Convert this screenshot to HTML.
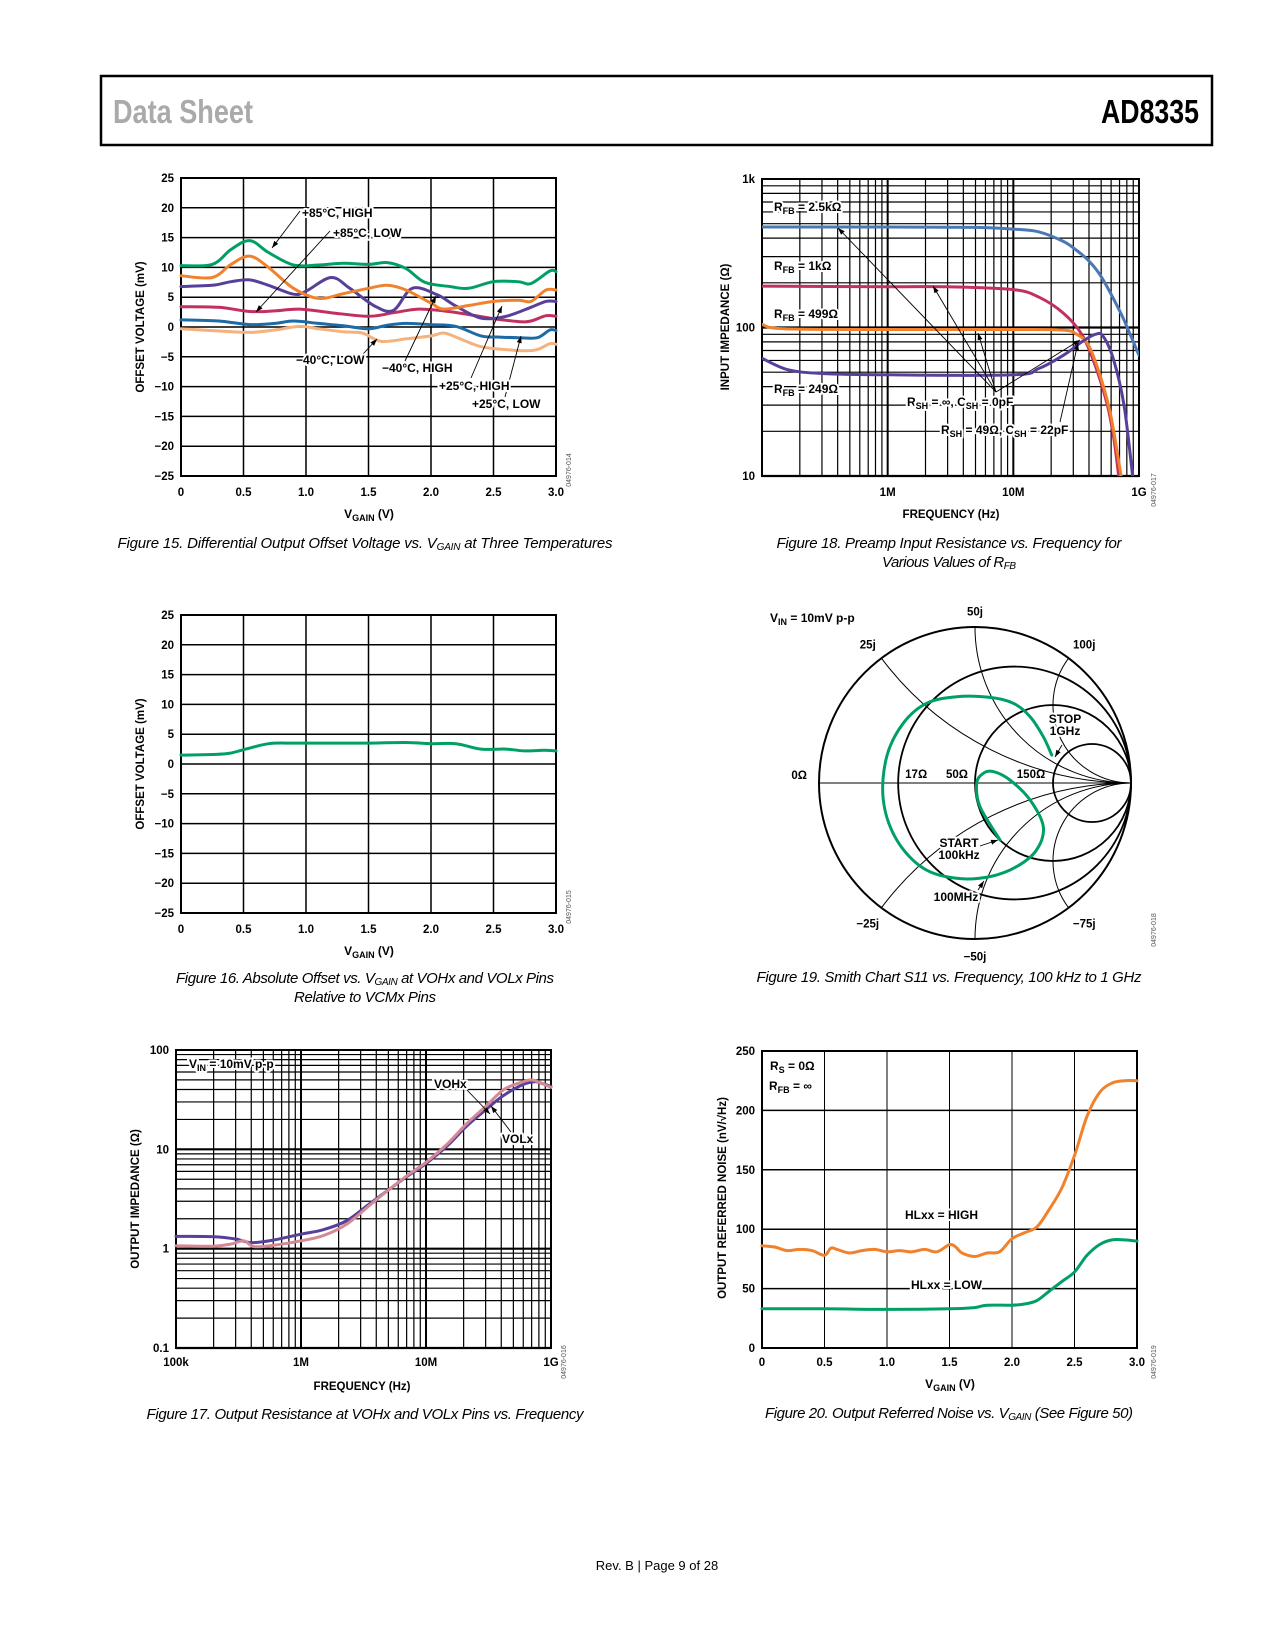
<!DOCTYPE html>
<html><head><meta charset="utf-8"><style>
html,body{margin:0;padding:0;background:#fff;}
svg{display:block;}
.t{font-family:"Liberation Sans",sans-serif;font-weight:bold;font-size:11.5px;fill:#000;}
.lab{font-family:"Liberation Sans",sans-serif;font-weight:bold;font-size:12px;fill:#000;stroke:#fff;stroke-width:4px;paint-order:stroke;stroke-linejoin:round;}
.cap{font-family:"Liberation Sans Narrow","Liberation Sans",sans-serif;font-style:italic;font-size:15px;fill:#000;}
</style></head><body>
<svg id="page" width="1275" height="1650" viewBox="0 0 1275 1650" xmlns="http://www.w3.org/2000/svg">
<rect x="101" y="76" width="1111" height="69" fill="none" stroke="#000" stroke-width="2.5"/>
<text x="113" y="123" textLength="140" lengthAdjust="spacingAndGlyphs" font-family="Liberation Sans Narrow, Liberation Sans, sans-serif" font-weight="bold" font-size="33" fill="#aaaaaa">Data Sheet</text>
<text x="1101" y="123" textLength="98" lengthAdjust="spacingAndGlyphs" font-family="Liberation Sans Narrow, Liberation Sans, sans-serif" font-weight="bold" font-size="33" fill="#000">AD8335</text>
<text x="657" y="1570" text-anchor="middle" font-family="Liberation Sans, sans-serif" font-size="13" fill="#000">Rev. B | Page 9 of 28</text>
<text class="cap" x="365" y="548" text-anchor="middle" textLength="495">Figure 15. Differential Output Offset Voltage vs. V<tspan font-size="10" dy="2">GAIN</tspan><tspan dy="-2"> at Three Temperatures</tspan></text>
<text class="cap" x="949" y="548" text-anchor="middle" textLength="345">Figure 18. Preamp Input Resistance vs. Frequency for</text>
<text class="cap" x="949" y="567" text-anchor="middle" textLength="134">Various Values of R<tspan font-size="10" dy="2">FB</tspan></text>
<text class="cap" x="365" y="983" text-anchor="middle" textLength="378">Figure 16. Absolute Offset vs. V<tspan font-size="10" dy="2">GAIN</tspan><tspan dy="-2"> at VOHx and VOLx Pins</tspan></text>
<text class="cap" x="365" y="1002" text-anchor="middle" textLength="142">Relative to VCMx Pins</text>
<text class="cap" x="949" y="982" text-anchor="middle" textLength="385">Figure 19. Smith Chart S11 vs. Frequency, 100 kHz to 1 GHz</text>
<text class="cap" x="365" y="1419" text-anchor="middle" textLength="437">Figure 17. Output Resistance at VOHx and VOLx Pins vs. Frequency</text>
<text class="cap" x="949" y="1418" text-anchor="middle" textLength="368">Figure 20. Output Referred Noise vs. V<tspan font-size="10" dy="2">GAIN</tspan><tspan dy="-2"> (See Figure 50)</tspan></text>
</svg>
<script>
// ---------- Figure 15 data ----------
const f15_ticks_x=[0,0.5,1.0,1.5,2.0,2.5,3.0];
const f15_tick_labels_x=["0","0.5","1.0","1.5","2.0","2.5","3.0"];
const f15_ticks_y=[25,20,15,10,5,0,-5,-10,-15,-20,-25];
const f15_tick_labels_y=["25","20","15","10","5","0","\u22125","\u221210","\u221215","\u221220","\u221225"];
const f15_green_x=[0,0.25,0.4,0.55,0.7,0.9,1.1,1.3,1.5,1.65,1.8,1.95,2.15,2.3,2.5,2.7,2.8,2.95,3.0];
const f15_green_y=[10.3,10.5,13,14.5,12.5,10.4,10.4,10.7,10.5,10.8,9.8,7.5,6.8,6.5,7.6,7.6,7.3,9.4,9.3];
const f15_orange_x=[0,0.25,0.4,0.55,0.7,0.9,1.1,1.3,1.5,1.65,1.8,2.0,2.1,2.3,2.5,2.7,2.8,2.92,3.0];
const f15_orange_y=[8.6,8.3,10.5,11.9,10,6.5,4.8,5.6,6.5,7.0,6.2,4,3,3.6,4.3,4.5,4.3,6.2,6.2];
const f15_purple_x=[0,0.25,0.4,0.55,0.7,0.9,1.0,1.2,1.35,1.55,1.7,1.85,2.05,2.2,2.4,2.6,2.8,2.92,3.0];
const f15_purple_y=[6.8,7.0,7.6,7.9,7.0,5.5,6.0,8.3,6.5,3.5,2.8,6.5,5.4,3.5,1.5,1.8,3.3,4.3,4.3];
const f15_crimson_x=[0,0.3,0.55,0.75,0.95,1.2,1.5,1.7,1.9,2.1,2.3,2.5,2.7,2.8,2.92,3.0];
const f15_crimson_y=[3.4,3.3,2.6,2.7,3.0,2.4,1.8,2.4,3.0,2.7,2.1,1.4,0.9,1.0,1.9,1.8];
const f15_blue_x=[0,0.3,0.55,0.75,0.9,1.1,1.3,1.5,1.65,1.8,2.0,2.2,2.4,2.55,2.7,2.85,2.95,3.0];
const f15_blue_y=[1.2,1.0,0.4,0.6,1.0,0.6,0.2,-0.3,0.3,0.6,0.4,0.1,-1.5,-1.7,-1.8,-1.8,-0.5,-0.6];
const f15_lightorange_x=[0,0.25,0.55,0.75,0.95,1.1,1.3,1.45,1.6,1.8,2.0,2.1,2.2,2.4,2.6,2.75,2.85,2.95,3.0];
const f15_lightorange_y=[-0.3,-0.6,-0.9,-0.5,0.1,-0.3,-0.8,-1.0,-2.4,-2.0,-1.5,-1.0,-1.7,-3.3,-3.8,-4.0,-3.8,-2.8,-2.9];
// ---------- Figure 16 data ----------
const f16_green_x=[0,0.35,0.5,0.7,0.9,1.2,1.5,1.8,2.0,2.2,2.4,2.6,2.75,2.9,3.0];
const f16_green_y=[1.5,1.7,2.4,3.4,3.5,3.5,3.5,3.6,3.4,3.4,2.5,2.5,2.2,2.3,2.2];
// ---------- Figure 18 data (x in MHz) ----------
const f18_ticks_x=[1,10,100];
const f18_tick_labels_x=["1M","10M","1G"];
const f18_ticks_y=[1000,100,10];
const f18_tick_labels_y=["1k","100","10"];
const f18_blue_x=[0.1,1,5,10,16,25,32,40,50,70,85,100];
const f18_blue_y=[475,475,472,460,440,380,330,280,220,130,90,65];
const f18_crimson_x=[0.1,1,3,10,16,25,35,45,56,63,69];
const f18_crimson_y=[190,188,188,180,160,125,90,55,30,18,10];
const f18_orange_x=[0.1,0.15,1,10,25,32,40,50,60,72];
const f18_orange_y=[105,98,97,97,96,90,75,45,25,10];
const f18_purple_x=[0.1,0.16,0.3,1,10,16,25,35,45,52,63,76,89];
const f18_purple_y=[62,52,49,48,48,53,65,80,90,87,60,30,10];
// ---------- Figure 17 data (x in MHz) ----------
const f17_ticks_x=[0.1,1,10,100];
const f17_tick_labels_x=["100k","1M","10M","1G"];
const f17_ticks_y=[100,10,1,0.1];
const f17_tick_labels_y=["100","10","1","0.1"];
const f17_vohx_x=[0.1,0.2,0.3,0.4,0.6,1,1.5,2.3,3.5,5,7,10,15,21,30,42,60,74,85,100];
const f17_vohx_y=[1.33,1.32,1.25,1.15,1.22,1.4,1.55,1.9,2.8,3.9,5.3,7.2,11,17,25,35,45,48,46,43];
const f17_volx_x=[0.1,0.2,0.28,0.35,0.42,0.6,1,1.5,2.3,3.5,5,7,10,15,21,30,42,60,70,85,100];
const f17_volx_y=[1.07,1.06,1.12,1.2,1.05,1.08,1.2,1.35,1.75,2.7,3.9,5.4,7.4,11.5,18,27,40,48,50,46,42];
// ---------- Figure 20 data ----------
const f20_ticks_y=[250,200,150,100,50,0];
const f20_tick_labels_y=["250","200","150","100","50","0"];
const f20_high_x=[0,0.1,0.2,0.3,0.4,0.5,0.55,0.6,0.7,0.8,0.9,1.0,1.1,1.2,1.3,1.4,1.5,1.55,1.6,1.7,1.8,1.9,2.0,2.1,2.2,2.3,2.4,2.5,2.6,2.7,2.8,2.9,3.0];
const f20_high_y=[86,85,82,83,82,78,84,83,80,82,83,81,82,81,83,81,87,85,80,77,80,81,92,97,102,117,135,162,195,215,223,225,225];
const f20_low_x=[0,0.5,1.0,1.5,1.7,1.8,2.0,2.1,2.2,2.3,2.4,2.5,2.6,2.7,2.8,2.9,3.0];
const f20_low_y=[33,33,32.5,33,34,36,36,37,40,48,56,64,78,87,91,91,90];
// ---------- Figure 19 data (reflection coefficient) ----------
const f19_gamma_re=[0.160,0.032,0.011,0.053,0.117,0.224,0.353,0.438,0.395,0.267,0.096,-0.118,-0.331,-0.502,-0.588,-0.566,-0.460,-0.310,-0.118,0.096,0.246,0.353,0.438,0.492];
const f19_gamma_im=[-0.365,-0.152,-0.002,0.062,0.073,0.019,-0.109,-0.280,-0.429,-0.536,-0.600,-0.611,-0.547,-0.365,-0.109,0.169,0.383,0.511,0.553,0.549,0.511,0.425,0.297,0.179];
const f19_res_ohms=[17,50,150];
const f19_res_labels=["17\u03a9","50\u03a9","150\u03a9"];
const f19_react_ohms=[25,50,100,-25,-50,-100];
const f19_react_labels=["25j","50j","100j","\u221225j","\u221250j","\u221275j"];

const NS='http://www.w3.org/2000/svg';
const svg=document.getElementById('page');
function el(tag,attrs,parent){const e=document.createElementNS(NS,tag);for(const k in attrs)e.setAttribute(k,attrs[k]);(parent||svg).appendChild(e);return e;}
function lin(d0,d1,p0,p1){return v=>p0+(v-d0)/(d1-d0)*(p1-p0);}
function lg(d0,d1,p0,p1){const a=Math.log10(d0),b=Math.log10(d1);return v=>p0+(Math.log10(v)-a)/(b-a)*(p1-p0);}
function smooth(P){let d='M'+P[0][0].toFixed(1)+','+P[0][1].toFixed(1);for(let i=0;i<P.length-1;i++){const p0=P[i-1]||P[i],p1=P[i],p2=P[i+1],p3=P[i+2]||p2;const c1=[p1[0]+(p2[0]-p0[0])/6,p1[1]+(p2[1]-p0[1])/6],c2=[p2[0]-(p3[0]-p1[0])/6,p2[1]-(p3[1]-p1[1])/6];d+=' C'+c1[0].toFixed(1)+','+c1[1].toFixed(1)+' '+c2[0].toFixed(1)+','+c2[1].toFixed(1)+' '+p2[0].toFixed(1)+','+p2[1].toFixed(1);}return d;}
function series(g,xs,ys,sx,sy,color,name,w){const pts=xs.map((x,i)=>[sx(x),sy(ys[i])]);const p=el('path',{d:smooth(pts),fill:'none',stroke:color,'stroke-width':w||3,'stroke-linejoin':'round','stroke-linecap':'round'},g);


return p;}
function text(g,x,y,s,cls,anchor){const t=el('text',{x:x,y:y,class:cls||'t','text-anchor':anchor||'start'},g);t.textContent=s;return t;}
function line(g,x1,y1,x2,y2,w){return el('line',{x1:x1,y1:y1,x2:x2,y2:y2,stroke:'#000','stroke-width':w||1.5},g);}
function arrowLine(g,x1,y1,x2,y2){const l=line(g,x1,y1,x2,y2,0.9);const a=Math.atan2(y2-y1,x2-x1),L=7,W=2.5;el('path',{d:`M${x2},${y2} L${x2-L*Math.cos(a)+W*Math.sin(a)},${y2-L*Math.sin(a)-W*Math.cos(a)} L${x2-L*Math.cos(a)-W*Math.sin(a)},${y2-L*Math.sin(a)+W*Math.cos(a)}Z`,fill:'#000'},g);return l;}
function group(name){const g=el('g',{});


return g;}
function richLabel(g,x,y,parts,anchor){const t=el('text',{x:x,y:y,class:'lab','text-anchor':anchor||'start'},g);parts.forEach(p=>{const s=el('tspan',{},t);if(p[1]){s.setAttribute('font-size','9');s.setAttribute('dy','3');}else{s.setAttribute('dy',p[2]||'0');}s.textContent=p[0];});return t;}

// ================= Figure 15 =================
(function(){
const X0=181,X1=556,Y0=178,Y1=476;
const sx=lin(0,3,X0,X1),sy=lin(25,-25,Y0,Y1);
const g=group('figure-15-offset-vs-vgain');
f15_ticks_x.forEach((v,i)=>{const l=line(g,sx(v),Y0,sx(v),Y1,1.5);


const t=text(g,sx(v),496,f15_tick_labels_x[i],'t','middle');

});
f15_ticks_y.forEach((v,i)=>{const l=line(g,X0,sy(v),X1,sy(v),1.5);


const t=text(g,174,sy(v)+4,f15_tick_labels_y[i],'t','end');

});
const fr=el('rect',{x:X0,y:Y0,width:X1-X0,height:Y1-Y0,fill:'none',stroke:'#000','stroke-width':2},g);


series(g,f15_lightorange_x,f15_lightorange_y,sx,sy,'#f5b27c','series-lightorange');
series(g,f15_blue_x,f15_blue_y,sx,sy,'#1d6aa5','series-blue');
series(g,f15_crimson_x,f15_crimson_y,sx,sy,'#c2305e','series-crimson');
series(g,f15_purple_x,f15_purple_y,sx,sy,'#56409a','series-purple');
series(g,f15_orange_x,f15_orange_y,sx,sy,'#f0822e','series-orange');
series(g,f15_green_x,f15_green_y,sx,sy,'#00a065','series-green');
arrowLine(g,300,211,272,248);arrowLine(g,330,231,256,312);arrowLine(g,363,354,377,339);arrowLine(g,405,361,436,296);arrowLine(g,471,378,502,306);arrowLine(g,505,397,521,336);
const labs=[[302,217,'+85°C, HIGH','label-85c-high'],[333,237,'+85°C, LOW','label-85c-low'],[296,364,'\u221240°C, LOW','label-m40c-low'],[382,372,'\u221240°C, HIGH','label-m40c-high'],[439,390,'+25°C, HIGH','label-25c-high'],[472,408,'+25°C, LOW','label-25c-low']];
labs.forEach(l=>{const t=text(g,l[0],l[1],l[2],'lab');

});
const yt=el('text',{class:'t',x:0,y:0,transform:'translate(144,327) rotate(-90)','text-anchor':'middle'},g);yt.textContent='OFFSET VOLTAGE (mV)';


const xt=richLabel(g,369,518,[['V'],['GAIN',1],[' (V)',0,'-3']],'middle');


const c=el('text',{x:0,y:0,transform:'translate(571,470) rotate(-90)','text-anchor':'middle','font-family':'Liberation Sans,sans-serif','font-size':'7',fill:'#555'},g);c.textContent='04976-014';


})();

// ================= Figure 16 =================
(function(){
const X0=181,X1=556,Y0=615,Y1=913;
const sx=lin(0,3,X0,X1),sy=lin(25,-25,Y0,Y1);
const g=group('figure-16-absolute-offset');
f15_ticks_x.forEach((v,i)=>{const l=line(g,sx(v),Y0,sx(v),Y1,1.5);


const t=text(g,sx(v),933,f15_tick_labels_x[i],'t','middle');

});
f15_ticks_y.forEach((v,i)=>{const l=line(g,X0,sy(v),X1,sy(v),1.5);


const t=text(g,174,sy(v)+4,f15_tick_labels_y[i],'t','end');

});
const fr=el('rect',{x:X0,y:Y0,width:X1-X0,height:Y1-Y0,fill:'none',stroke:'#000','stroke-width':2},g);


series(g,f16_green_x,f16_green_y,sx,sy,'#00a065','series-offset');
const yt=el('text',{class:'t',x:0,y:0,transform:'translate(144,764) rotate(-90)','text-anchor':'middle'},g);yt.textContent='OFFSET VOLTAGE (mV)';


const xt=richLabel(g,369,955,[['V'],['GAIN',1],[' (V)',0,'-3']],'middle');


const c=el('text',{x:0,y:0,transform:'translate(571,907) rotate(-90)','text-anchor':'middle','font-family':'Liberation Sans,sans-serif','font-size':'7',fill:'#555'},g);c.textContent='04976-015';


})();

function logGridX(g,sx,d0,d1,Y0,Y1){for(let e=Math.log10(d0);e<Math.log10(d1)-1e-9;e++){for(let m=1;m<10;m++){const v=Math.pow(10,e)*m;const l=line(g,sx(v),Y0,sx(v),Y1,m==1?2:1.2);

}}}
function logGridY(g,sy,d0,d1,X0,X1){for(let e=Math.log10(d0);e<Math.log10(d1)-1e-9;e++){for(let m=1;m<10;m++){const v=Math.pow(10,e)*m;const l=line(g,X0,sy(v),X1,sy(v),m==1?2.2:1.2);

}}}

// ================= Figure 18 =================
(function(){
const X0=762,X1=1139,Y0=179,Y1=476;
const sx=lg(0.1,100,X0,X1),sy=lg(1000,10,Y0,Y1);
const g=group('figure-18-input-impedance');
logGridX(g,sx,0.1,100,Y0,Y1);logGridY(g,sy,10,1000,X0,X1);
const fr=el('rect',{x:X0,y:Y0,width:X1-X0,height:Y1-Y0,fill:'none',stroke:'#000','stroke-width':2},g);


f18_ticks_x.forEach((v,i)=>{const t=text(g,sx(v),496,f18_tick_labels_x[i],'t','middle');

});
f18_ticks_y.forEach((v,i)=>{const t=text(g,755,sy(v)+4,f18_tick_labels_y[i],'t','end');

});
const cp=el('clipPath',{id:'c18'},g);el('rect',{x:X0,y:Y0,width:X1-X0,height:Y1-Y0},cp);
const gg=el('g',{'clip-path':'url(#c18)'},g);
series(gg,f18_blue_x,f18_blue_y,sx,sy,'#4a78b5','series-rfb-2k5');
series(gg,f18_crimson_x,f18_crimson_y,sx,sy,'#c2305e','series-rfb-1k');
series(gg,f18_orange_x,f18_orange_y,sx,sy,'#f0822e','series-rfb-499');
series(gg,f18_purple_x,f18_purple_y,sx,sy,'#56409a','series-rfb-249');
arrowLine(g,996,392,838,228);arrowLine(g,996,392,933,286);arrowLine(g,996,392,978,333);arrowLine(g,996,392,1080,340);
arrowLine(g,1060,422,1078,343);
const l1=richLabel(g,774,211,[['R'],['FB',1],[' = 2.5k\u03a9',0,'-3']]);


const l2=richLabel(g,774,270,[['R'],['FB',1],[' = 1k\u03a9',0,'-3']]);


const l3=richLabel(g,774,318,[['R'],['FB',1],[' = 499\u03a9',0,'-3']]);


const l4=richLabel(g,774,393,[['R'],['FB',1],[' = 249\u03a9',0,'-3']]);


const l5=richLabel(g,907,406,[['R'],['SH',1],[' = \u221e, C',0,'-3'],['SH',1],[' = 0pF',0,'-3']]);


const l6=richLabel(g,941,434,[['R'],['SH',1],[' = 49\u03a9, C',0,'-3'],['SH',1],[' = 22pF',0,'-3']]);


const yt=el('text',{class:'t',x:0,y:0,transform:'translate(729,327) rotate(-90)','text-anchor':'middle'},g);yt.textContent='INPUT IMPEDANCE (\u03a9)';


const xt=text(g,951,518,'FREQUENCY (Hz)','t','middle');


const c=el('text',{x:0,y:0,transform:'translate(1156,490) rotate(-90)','text-anchor':'middle','font-family':'Liberation Sans,sans-serif','font-size':'7',fill:'#555'},g);c.textContent='04976-017';


})();

// ================= Figure 19 (Smith chart) =================
(function(){
const CX=975,CY=783,R=156;
const gx=v=>CX+v*R,gy=v=>CY-v*R;
const g=group('figure-19-smith-chart');
line(g,CX-R,CY,CX+R,CY,1);
f19_res_ohms.forEach((o,i)=>{const r=o/50;const c=el('circle',{cx:gx(r/(r+1)),cy:CY,r:R/(r+1),fill:'none',stroke:'#000','stroke-width':1.8},g);


const t=text(g,gx((r-1)/(r+1))+(i==0?18:i==1?-18:-22),CY-5,f19_res_labels[i],'t','middle');

});
f19_react_ohms.forEach((o,i)=>{const x=o/50,ax=Math.abs(x);const pr=(x*x-1)/(x*x+1),pi=2*x/(x*x+1);const rr=R/ax;
const p=el('path',{d:`M${gx(pr)},${gy(pi)} A${rr},${rr} 0 0 ${x>0?0:1} ${gx(1)},${gy(0)}`,fill:'none',stroke:'#000','stroke-width':1},g);


const lx=gx(pr*1.06),ly=gy(pi*1.06)+(x>0?-2:12);
const t=text(g,lx+(pr>0.1?10:pr<-0.1?-8:0),ly,f19_react_labels[i],'t','middle');

});
const oc=el('circle',{cx:CX,cy:CY,r:R,fill:'none',stroke:'#000','stroke-width':2},g);


const t0=text(g,CX-R-12,CY-4,'0\u03a9','t','end');


const pts=f19_gamma_re.map((v,i)=>[gx(v),gy(f19_gamma_im[i])]);
const cur=el('path',{d:smooth(pts),fill:'none',stroke:'#00a065','stroke-width':3,'stroke-linecap':'round'},g);


arrowLine(g,1062,745,1055,757);arrowLine(g,980,846,998,840);arrowLine(g,978,890,984,881);
const v=richLabel(g,770,622,[['V'],['IN',1],[' = 10mV p-p',0,'-3']]);


[[1065,723,'STOP','stop-label'],[1065,735,'1GHz','stop-freq-label'],[959,847,'START','start-label'],[959,859,'100kHz','start-freq-label'],[956,901,'100MHz','marker-100mhz-label']].forEach(a=>{const t=text(g,a[0],a[1],a[2],'lab','middle');

});
const c=el('text',{x:0,y:0,transform:'translate(1156,930) rotate(-90)','text-anchor':'middle','font-family':'Liberation Sans,sans-serif','font-size':'7',fill:'#555'},g);c.textContent='04976-018';


})();

// ================= Figure 17 =================
(function(){
const X0=176,X1=551,Y0=1050,Y1=1348;
const sx=lg(0.1,100,X0,X1),sy=lg(100,0.1,Y0,Y1);
const g=group('figure-17-output-resistance');
logGridX(g,sx,0.1,100,Y0,Y1);logGridY(g,sy,0.1,100,X0,X1);
const fr=el('rect',{x:X0,y:Y0,width:X1-X0,height:Y1-Y0,fill:'none',stroke:'#000','stroke-width':2},g);


f17_ticks_x.forEach((v,i)=>{const t=text(g,sx(v),1366,f17_tick_labels_x[i],'t','middle');

});
f17_ticks_y.forEach((v,i)=>{const t=text(g,169,sy(v)+4,f17_tick_labels_y[i],'t','end');

});
series(g,f17_vohx_x,f17_vohx_y,sx,sy,'#56409a','series-vohx');
series(g,f17_volx_x,f17_volx_y,sx,sy,'#d48a94','series-volx');
arrowLine(g,467,1090,490,1114);arrowLine(g,511,1132,491,1106);
const v=richLabel(g,189,1068,[['V'],['IN',1],[' = 10mV p-p',0,'-3']]);


const a=text(g,434,1088,'VOHx','lab');


const b=text(g,502,1143,'VOLx','lab');


const yt=el('text',{class:'t',x:0,y:0,transform:'translate(139,1199) rotate(-90)','text-anchor':'middle'},g);yt.textContent='OUTPUT IMPEDANCE (\u03a9)';


const xt=text(g,362,1390,'FREQUENCY (Hz)','t','middle');


const c=el('text',{x:0,y:0,transform:'translate(566,1362) rotate(-90)','text-anchor':'middle','font-family':'Liberation Sans,sans-serif','font-size':'7',fill:'#555'},g);c.textContent='04976-016';


})();

// ================= Figure 20 =================
(function(){
const X0=762,X1=1137,Y0=1051,Y1=1348;
const sx=lin(0,3,X0,X1),sy=lin(250,0,Y0,Y1);
const g=group('figure-20-output-noise');
f15_ticks_x.forEach((v,i)=>{const l=line(g,sx(v),Y0,sx(v),Y1,1);


const t=text(g,sx(v),1366,f15_tick_labels_x[i],'t','middle');

});
f20_ticks_y.forEach((v,i)=>{const l=line(g,X0,sy(v),X1,sy(v),1.5);


const t=text(g,755,sy(v)+4,f20_tick_labels_y[i],'t','end');

});
const fr=el('rect',{x:X0,y:Y0,width:X1-X0,height:Y1-Y0,fill:'none',stroke:'#000','stroke-width':2},g);


series(g,f20_high_x,f20_high_y,sx,sy,'#f0822e','series-hlxx-high');
series(g,f20_low_x,f20_low_y,sx,sy,'#00a065','series-hlxx-low');
const a=text(g,905,1219,'HLxx = HIGH','lab');


const b=text(g,911,1289,'HLxx = LOW','lab');


const r1=richLabel(g,770,1070,[['R'],['S',1],[' = 0\u03a9',0,'-3']]);


const r2=richLabel(g,769,1090,[['R'],['FB',1],[' = \u221e',0,'-3']]);


const yt=el('text',{class:'t',x:0,y:0,transform:'translate(726,1198) rotate(-90)','text-anchor':'middle'},g);yt.textContent='OUTPUT REFERRED NOISE (nV/\u221aHz)';


const xt=richLabel(g,950,1388,[['V'],['GAIN',1],[' (V)',0,'-3']],'middle');


const c=el('text',{x:0,y:0,transform:'translate(1156,1362) rotate(-90)','text-anchor':'middle','font-family':'Liberation Sans,sans-serif','font-size':'7',fill:'#555'},g);c.textContent='04976-019';


})();
</script>
</body></html>
